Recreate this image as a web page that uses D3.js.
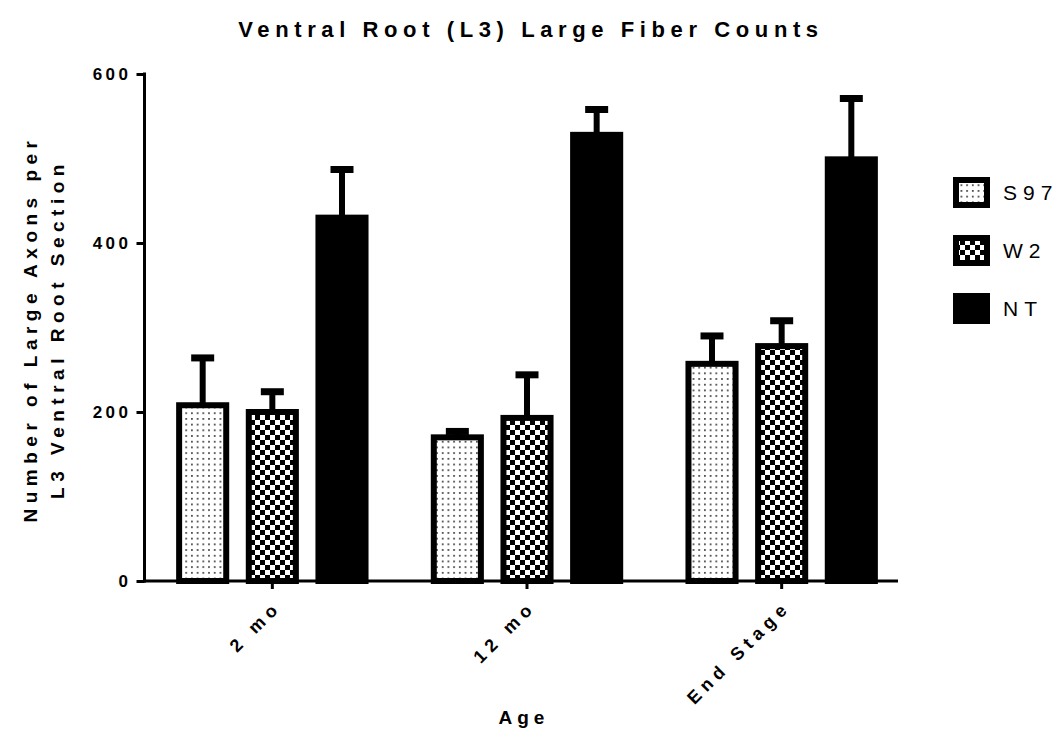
<!DOCTYPE html>
<html>
<head>
<meta charset="utf-8">
<script src="https://cdn.jsdelivr.net/npm/d3@7"></script>
<style>
  html, body { margin: 0; padding: 0; background: #fff; }
  svg { display: block; font-family: "Liberation Sans", Arial, sans-serif; }
</style>
</head>
<body>
<svg id="chart" width="1061" height="732"></svg>
<script>
const categories = ["2 mo", "12 mo", "End Stage"];
const seriesNames = ["S97", "W2", "NT"];
const s97Values = [208, 170, 257];
const w2Values = [200, 193, 278];
const ntValues = [430, 528, 499];
const s97Errors = [56, 7, 33];
const w2Errors = [24, 51, 30];
const ntErrors = [57, 30, 72];
const yTicks = [0, 200, 400, 600];

const seriesValues = [s97Values, w2Values, ntValues];
const seriesErrors = [s97Errors, w2Errors, ntErrors];
const fills = ["url(#dots)", "url(#checks)", "#000"];

const svg = d3.select("#chart");
const defs = svg.append("defs");

// dotted pattern
const pd = defs.append("pattern").attr("id", "dots").attr("patternUnits", "userSpaceOnUse")
  .attr("width", 5.7).attr("height", 5.7).attr("x", 1).attr("y", 0);
pd.append("rect").attr("width", 5.7).attr("height", 5.7).attr("fill", "#fff");
pd.append("rect").attr("x", 2).attr("y", 2).attr("width", 1.6).attr("height", 1.6).attr("fill", "#222");

// checkerboard pattern
const pc = defs.append("pattern").attr("id", "checks").attr("patternUnits", "userSpaceOnUse")
  .attr("width", 10).attr("height", 10);
pc.append("rect").attr("width", 10).attr("height", 10).attr("fill", "#fff");
pc.append("rect").attr("x", 0).attr("y", 0).attr("width", 5).attr("height", 5).attr("fill", "#000");
pc.append("rect").attr("x", 5).attr("y", 5).attr("width", 5).attr("height", 5).attr("fill", "#000");

const x0 = d3.scaleBand().domain(categories).range([145, 909]).paddingInner(0).paddingOuter(0);
const x1 = d3.scaleBand().domain(seriesNames).range([0, x0.bandwidth()]).paddingInner(0.324).paddingOuter(0.49);
const y = d3.scaleLinear().domain([0, 600]).range([581, 74]);

// bars
categories.forEach((cat, ci) => {
  seriesNames.forEach((s, si) => {
    const v = seriesValues[si][ci];
    const e = seriesErrors[si][ci];
    const bx = x0(cat) + x1(s);
    const bw = x1.bandwidth();
    const cx = bx + bw / 2;
    svg.append("line")
      .attr("x1", cx).attr("x2", cx)
      .attr("y1", y(v)).attr("y2", y(v + e))
      .attr("stroke", "#000").attr("stroke-width", 6);
    svg.append("line")
      .attr("x1", cx - 11.5).attr("x2", cx + 11.5)
      .attr("y1", y(v + e)).attr("y2", y(v + e))
      .attr("stroke", "#000").attr("stroke-width", 7);
    svg.append("rect")
      .attr("x", bx).attr("y", y(v))
      .attr("width", bw).attr("height", y(0) - y(v))
      .attr("fill", fills[si])
      .attr("stroke", "#000").attr("stroke-width", 6);
  });
});

const boldText = sel => sel.attr("font-weight", "bold").attr("fill", "#000")
  .attr("font-family", "Liberation Sans, Arial, sans-serif");

// y axis
const yAxis = svg.append("g").attr("transform", "translate(144.5,0)")
  .call(d3.axisLeft(y).tickValues(yTicks).tickSize(8).tickSizeOuter(0).tickPadding(5));
yAxis.select(".domain").attr("stroke-width", 3).attr("d", "M0," + (y(600) - 1.5) + "V" + (y(0) + 1.5));
yAxis.selectAll(".tick line").attr("stroke-width", 3);
yAxis.selectAll(".tick text").call(boldText)
  .attr("font-size", 17).attr("letter-spacing", "3.5px");

// x axis
const xAxis = svg.append("g").attr("transform", "translate(0,581)")
  .call(d3.axisBottom(x0).tickSize(8).tickSizeOuter(0).tickFormat(""));
xAxis.select(".domain").attr("stroke-width", 3).attr("d", "M143,0H898");
xAxis.selectAll(".tick line").attr("stroke-width", 3);

categories.forEach(cat => {
  const cx = x0(cat) + x0.bandwidth() / 2;
  svg.append("text")
    .attr("transform", `translate(${cx + 10},${608}) rotate(-45)`)
    .attr("text-anchor", "end")
    .call(boldText)
    .attr("font-size", 18)
    .attr("letter-spacing", "5.5px")
    .text(cat);
});

// title
svg.append("text")
  .attr("x", 531).attr("y", 37)
  .attr("text-anchor", "middle")
  .call(boldText)
  .attr("font-size", 22)
  .attr("letter-spacing", "5.6px")
  .text("Ventral Root (L3) Large Fiber Counts");

// y title
svg.append("text")
  .attr("transform", "translate(37,329) rotate(-90)")
  .attr("text-anchor", "middle")
  .call(boldText)
  .attr("font-size", 19)
  .attr("letter-spacing", "5.5px")
  .text("Number of Large Axons per");
svg.append("text")
  .attr("transform", "translate(64,329) rotate(-90)")
  .attr("text-anchor", "middle")
  .call(boldText)
  .attr("font-size", 19)
  .attr("letter-spacing", "5.5px")
  .text("L3 Ventral Root Section");

// x title
svg.append("text")
  .attr("x", 524).attr("y", 724)
  .attr("text-anchor", "middle")
  .call(boldText)
  .attr("font-size", 19)
  .attr("letter-spacing", "5px")
  .text("Age");

// legend
const legend = svg.append("g");
seriesNames.forEach((s, i) => {
  const ly = 180 + i * 58;
  legend.append("rect")
    .attr("x", 956).attr("y", ly)
    .attr("width", 31).attr("height", 25)
    .attr("fill", fills[i]).attr("stroke", "#000").attr("stroke-width", 6);
  legend.append("text")
    .attr("x", 1003).attr("y", ly + 12.5)
    .attr("dy", "0.35em")
    .attr("font-size", 21)
    .attr("letter-spacing", "6px")
    .text(s);
});
</script>
</body>
</html>
